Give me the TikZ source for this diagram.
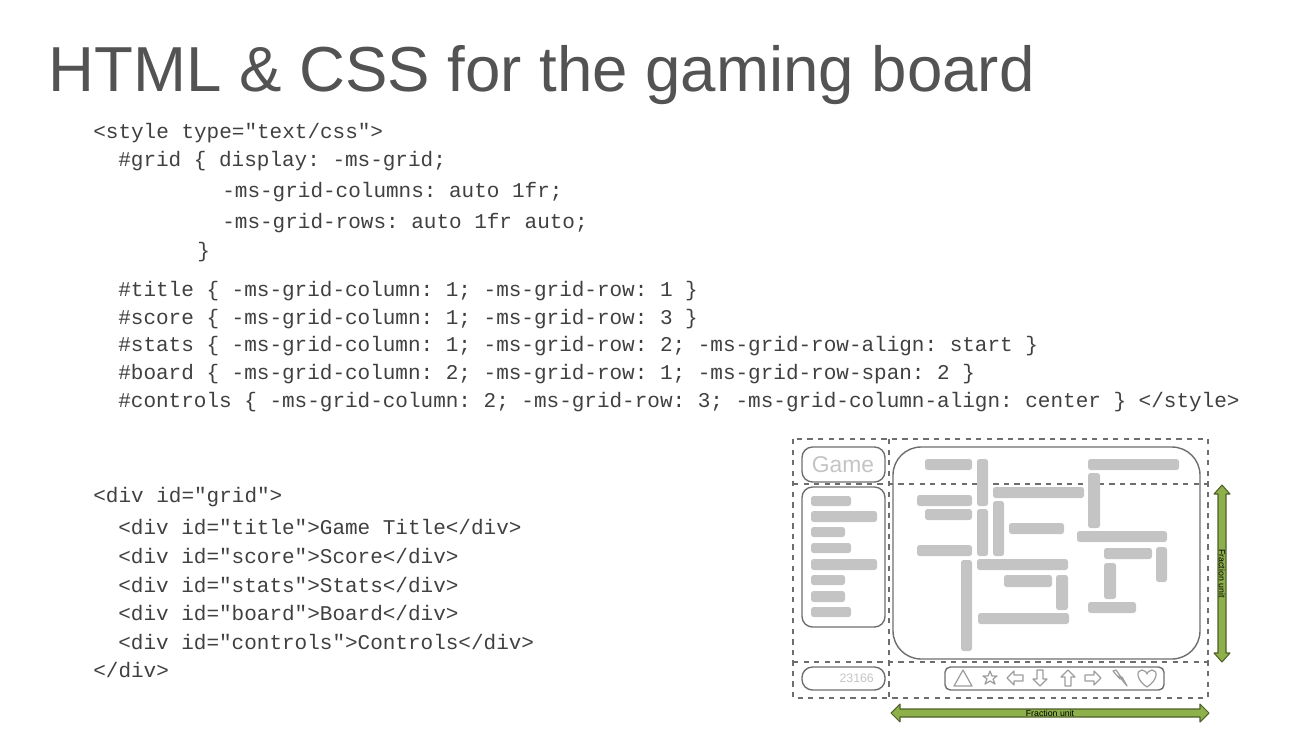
\documentclass[tikz,border=0pt]{standalone}
\usepackage{fontspec}
\setmainfont{Liberation Sans}
\setmonofont{Liberation Mono}
\definecolor{ink}{HTML}{404040}
\definecolor{bar}{HTML}{C4C4C4}
\definecolor{frame}{HTML}{6E6E6E}
\definecolor{leaf}{HTML}{8DB04A}

\begin{document}
\begin{tikzpicture}[
    x=0.02cm, y=-0.02cm,
    code/.style={anchor=west, inner sep=0pt, text=ink, font=\ttfamily\fontsize{11.95}{14}\selectfont},
    help lines/.style={dashed, color=frame, line width=0.6pt},
    box/.style={draw=frame, line width=0.8pt, rounded corners=6pt},
    tile/.style={fill=bar, rounded corners=1.5pt},
    icon/.style={draw=bar!80!black, line width=0.7pt, line join=round},
    unit arrow/.style={draw=leaf!55!black, fill=leaf, line width=0.6pt, line join=round}
]
\useasboundingbox (0,0) rectangle (1305,734);

% title
\node[anchor=west, inner sep=0pt, text=ink!90!white, font=\fontsize{36.2}{40}\selectfont] (heading) at (48,75) {HTML \& CSS for the gaming board};

% style block
\node[code] (l1) at (93,133) {<style type="text/css">};
\node[code] (l2) at (118,161) {\#grid \{ display: -ms-grid;};
\node[code] (l3) at (222,192) {-ms-grid-columns: auto 1fr;};
\node[code] (l4) at (222,223) {-ms-grid-rows: auto 1fr auto;};
\node[code] (l5) at (197,252) {\}};
\node[code] (l6) at (118,291) {\#title \{ -ms-grid-column: 1; -ms-grid-row: 1 \}};
\node[code] (l7) at (118,319) {\#score \{ -ms-grid-column: 1; -ms-grid-row: 3 \}};
\node[code] (l8) at (118,346) {\#stats \{ -ms-grid-column: 1; -ms-grid-row: 2; -ms-grid-row-align: start \}};
\node[code] (l9) at (118,374) {\#board \{ -ms-grid-column: 2; -ms-grid-row: 1; -ms-grid-row-span: 2 \}};
\node[code] (l10) at (118,402) {\#controls \{ -ms-grid-column: 2; -ms-grid-row: 3; -ms-grid-column-align: center \} </style>};

% markup block
\node[code] (m1) at (93,497) {<div id="grid">};
\node[code] (m2) at (118,527) {<div id="title">Game Title</div>};
\node[code] (m3) at (118,556) {<div id="score">Score</div>};
\node[code] (m4) at (118,585) {<div id="stats">Stats</div>};
\node[code] (m5) at (118,613) {<div id="board">Board</div>};
\node[code] (m6) at (118,642) {<div id="controls">Controls</div>};
\node[code] (m7) at (93,670) {</div>};

% grid lines
\draw[style=help lines] (793,439) rectangle (1208,698);
\draw[style=help lines] (889,439) -- (889,698);
\draw[style=help lines] (793,484) -- (1208,484);
\draw[style=help lines] (793,662) -- (1208,662);

% cells
\draw[box] (802,447) rectangle (885,482);
\node[text=bar, font=\fontsize{13}{16}\selectfont] (game) at (843,465) {Game};
\draw[box] (802,487) rectangle (885,627);
\draw[box] (802,667) rectangle (885,690);
\node[text=bar, font=\fontsize{7}{8}\selectfont, anchor=east] (points) at (880,678) {23166};
\draw[box, rounded corners=16pt] (893,447) rectangle (1200,659);
\draw[box, rounded corners=3pt] (945,667) rectangle (1164,690);

% stats tiles
\foreach \a/\b/\c/\d in {811/496/851/506, 811/511/877/522, 811/527/845/537, 811/543/851/553,
    811/559/877/570, 811/575/845/585, 811/591/845/602, 811/607/851/617}
    \fill[tile] (\a,\b) rectangle (\c,\d);

% board tiles
\foreach \a/\b/\c/\d in {925/459/972/470, 977/459/988/506, 1088/459/1179/470, 1088/473/1100/528,
    993/487/1084/498, 917/495/972/506, 925/509/972/520, 977/509/988/556, 993/501/1004/556,
    1009/523/1064/534, 1077/531/1167/542, 917/545/972/556, 1104/548/1152/559, 1156/547/1167/582,
    961/560/972/651, 977/559/1068/570, 1004/575/1052/587, 1056/575/1068/610, 1104/563/1116/599,
    1088/602/1136/613, 978/613/1069/624}
    \fill[tile] (\a,\b) rectangle (\c,\d);

% control icons
\draw[icon] (954,686) -- (963,670) -- (972,686) -- cycle;
\draw[icon] (990,671) -- (992,676) -- (997,676) -- (993,679) -- (995,684) -- (990,681)
    -- (985,684) -- (987,679) -- (983,676) -- (988,676) -- cycle;
\draw[icon] (1007,678) -- (1014,671) -- (1014,675) -- (1023,675) -- (1023,681) -- (1014,681) -- (1014,685) -- cycle;
\draw[icon] (1040,686) -- (1033,679) -- (1037,679) -- (1037,670) -- (1043,670) -- (1043,679) -- (1047,679) -- cycle;
\draw[icon] (1068,670) -- (1061,677) -- (1065,677) -- (1065,686) -- (1071,686) -- (1071,677) -- (1075,677) -- cycle;
\draw[icon] (1101,678) -- (1094,671) -- (1094,675) -- (1085,675) -- (1085,681) -- (1094,681) -- (1094,685) -- cycle;
\draw[icon] (1113,671) -- (1120,679) -- (1119,676) -- (1127,686) -- (1122,677) -- (1123,680) -- (1116,670) -- cycle;
\draw[icon] (1147,687) .. controls (1136,680) and (1136,670) .. (1142,670)
    .. controls (1145,670) and (1147,673) .. (1147,674)
    .. controls (1147,673) and (1149,670) .. (1152,670)
    .. controls (1158,670) and (1158,680) .. (1147,687);

% fraction arrows
\draw[unit arrow] (1222,485) -- (1230,494) -- (1226,494) -- (1226,653) -- (1230,653) -- (1222,662)
    -- (1214,653) -- (1218,653) -- (1218,494) -- (1214,494) -- cycle;
\node[rotate=-90, font=\fontsize{5}{6}\selectfont] (rowlabel) at (1222,573.5) {Fraction unit};
\draw[unit arrow] (891,713) -- (900,704) -- (900,709) -- (1200,709) -- (1200,704) -- (1209,713)
    -- (1200,722) -- (1200,717) -- (900,717) -- (900,722) -- cycle;
\node[font=\fontsize{5}{6}\selectfont] (collabel) at (1050,713) {Fraction unit};

\end{tikzpicture}
\end{document}
